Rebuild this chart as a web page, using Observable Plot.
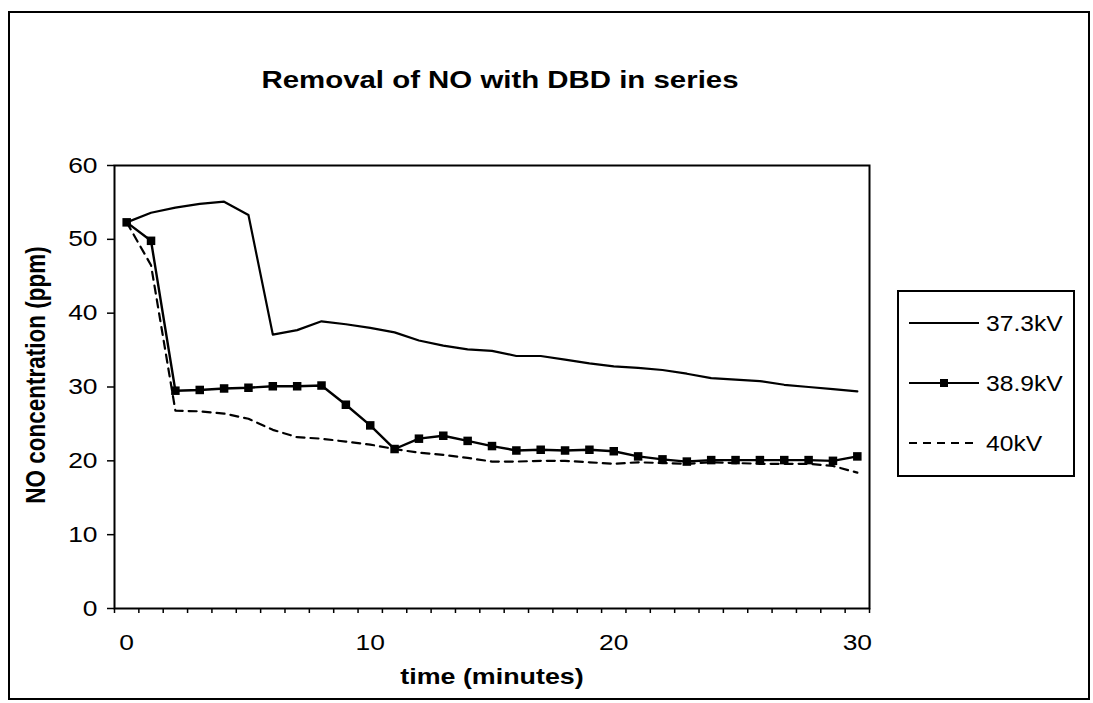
<!DOCTYPE html>
<html>
<head>
<meta charset="utf-8">
<script src="https://cdn.jsdelivr.net/npm/d3@7"></script>
<script src="https://cdn.jsdelivr.net/npm/@observablehq/plot@0.6"></script>
<style>
  html, body { margin: 0; padding: 0; background: #fff; }
  #wrap { position: relative; width: 1093px; height: 703px; overflow: hidden; font-family: "Liberation Sans", Arial, sans-serif; }
  #chart { position: absolute; left: 0; top: 0; }
  #outer { position: absolute; left: 8px; top: 11px; width: 1082px; height: 689px; border: 2px solid #000; box-sizing: border-box; pointer-events: none; }
  .lbl { position: absolute; white-space: nowrap; font-weight: bold; color: #000; line-height: 1; }
  #title { left: 500px; top: 80px; font-size: 24.5px; transform: translate(-50%, -50%) scaleX(1.2); }
  #ylabel { left: 37px; top: 375px; font-size: 22.5px; transform: translate(-50%, -50%) scaleX(1.2) rotate(-90deg); }
  #xlabel { left: 492px; top: 677px; font-size: 22px; transform: translate(-50%, -50%) scaleX(1.22); }
  #legend { position: absolute; left: 897px; top: 290px; }
</style>
</head>
<body>
<div id="wrap">
  <div id="chart"></div>
  <div id="outer"></div>
  <div id="title" class="lbl">Removal of NO with DBD in series</div>
  <div id="ylabel" class="lbl">NO concentration (ppm)</div>
  <div id="xlabel" class="lbl">time (minutes)</div>
  <div id="legend"></div>
</div>
<script>
// ---- data ----
const times = d3.range(0, 31);
const series = ["37.3kV", "38.9kV", "40kV"];
const v373 = [52.3, 53.6, 54.3, 54.8, 55.1, 53.3, 37.1, 37.7, 38.9, 38.5, 38.0, 37.4, 36.3, 35.6, 35.1, 34.9, 34.2, 34.2, 33.7, 33.2, 32.8, 32.6, 32.3, 31.8, 31.2, 31.0, 30.8, 30.3, 30.0, 29.7, 29.4];
const v389 = [52.3, 49.8, 29.5, 29.6, 29.8, 29.9, 30.1, 30.1, 30.2, 27.6, 24.8, 21.6, 23.0, 23.4, 22.7, 22.0, 21.4, 21.5, 21.4, 21.5, 21.3, 20.6, 20.2, 19.9, 20.1, 20.1, 20.1, 20.1, 20.1, 20.0, 20.6];
const v40  = [52.3, 46.5, 26.8, 26.7, 26.4, 25.7, 24.2, 23.2, 23.0, 22.6, 22.2, 21.6, 21.1, 20.8, 20.4, 19.9, 19.9, 20.0, 20.0, 19.8, 19.6, 19.8, 19.7, 19.6, 19.8, 19.7, 19.6, 19.6, 19.6, 19.3, 18.4];
const xTickLabels = [0, 10, 20, 30];
const yTicks = [0, 10, 20, 30, 40, 50, 60];

const d373 = times.map((t, i) => ({t, v: v373[i]}));
const d389 = times.map((t, i) => ({t, v: v389[i]}));
const d40  = times.map((t, i) => ({t, v: v40[i]}));
const boundaries = d3.range(-0.5, 31, 1);
const STRETCH = 1.2;

const chart = Plot.plot({
  width: 1093,
  height: 703,
  marginLeft: 114,
  marginRight: 224,
  marginTop: 165,
  marginBottom: 95,
  style: {fontFamily: "Liberation Sans, Arial, sans-serif", fontSize: "22px", color: "#000", background: "transparent"},
  x: {domain: [-0.5, 30.5]},
  y: {domain: [0, 60]},
  marks: [
    Plot.frame({stroke: "#000", strokeWidth: 2}),
    Plot.axisX({ticks: boundaries, tickSize: 5, text: null, label: null, strokeWidth: 1.5}),
    Plot.axisX({ticks: xTickLabels, tickSize: 0, tickPadding: 26, label: null, fontSize: 22}),
    Plot.axisY({ticks: yTicks, tickSize: 7, tickPadding: 10, label: null, fontSize: 22, strokeWidth: 1.5}),
    Plot.line(d373, {x: "t", y: "v", stroke: "#000", strokeWidth: 2.2}),
    Plot.line(d40, {x: "t", y: "v", stroke: "#000", strokeWidth: 2.2, strokeDasharray: "8,6"}),
    Plot.line(d389, {x: "t", y: "v", stroke: "#000", strokeWidth: 2.4}),
    Plot.dot(d389, {x: "t", y: "v", symbol: "square", r: 4.8, fill: "#000", stroke: "none"})
  ]
});
document.getElementById("chart").appendChild(chart);

// horizontally stretch tick labels (the reference scan is stretched sideways),
// scaling each label about its own anchor point
chart.querySelectorAll('g[aria-label$="tick label"] text').forEach(t => {
  const parent = t.parentNode;
  const ctm = parent.getScreenCTM();
  const r = t.getBoundingClientRect();
  const anchor = getComputedStyle(t).textAnchor;
  const sx = anchor === "end" ? r.right : anchor === "start" ? r.left : (r.left + r.right) / 2;
  const ax = (sx - ctm.e) / ctm.a;
  const g = document.createElementNS("http://www.w3.org/2000/svg", "g");
  g.setAttribute("transform", `translate(${ax},0) scale(${STRETCH},1) translate(${-ax},0)`);
  parent.insertBefore(g, t);
  g.appendChild(t);
});

// ---- legend ----
const lw = 178, lh = 187;
const leg = d3.select("#legend").append("svg").attr("width", lw + 2).attr("height", lh + 2)
  .style("font-family", "Liberation Sans, Arial, sans-serif");
leg.append("rect").attr("x", 1).attr("y", 1).attr("width", lw - 2).attr("height", lh - 2)
  .attr("fill", "#fff").attr("stroke", "#000").attr("stroke-width", 2);
const rows = [
  {name: series[0], y: 33, dash: null, marker: false},
  {name: series[1], y: 93, dash: null, marker: true},
  {name: series[2], y: 153, dash: "8,6", marker: false}
];
rows.forEach(r => {
  leg.append("line").attr("x1", 12).attr("x2", 82).attr("y1", r.y).attr("y2", r.y)
    .attr("stroke", "#000").attr("stroke-width", 2.2).attr("stroke-dasharray", r.dash);
  if (r.marker) leg.append("rect").attr("x", 43).attr("y", r.y - 4).attr("width", 8).attr("height", 8).attr("fill", "#000");
  leg.append("text").attr("transform", `translate(89,${r.y}) scale(1.12,1)`).attr("dy", "0.36em").attr("font-size", 22).text(r.name);
});
</script>
</body>
</html>
